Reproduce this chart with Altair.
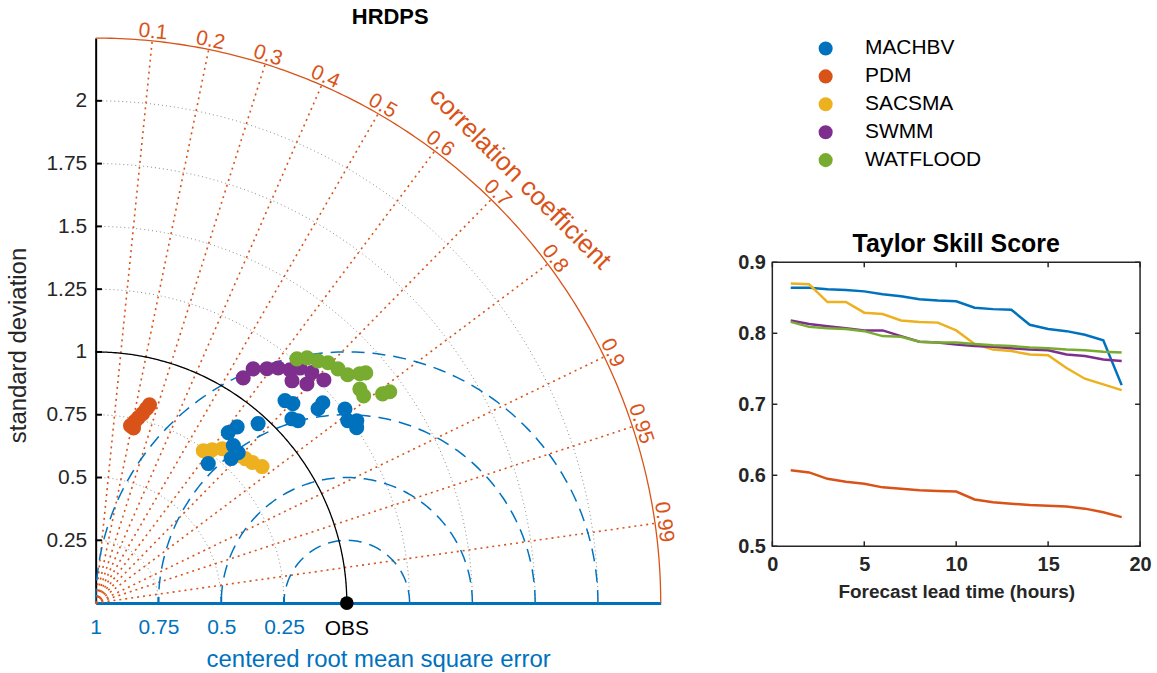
import altair as alt
import numpy as np
import pandas as pd

FONT = "Liberation Sans"
INK = "#262626"
ORANGE = "#D95319"
BLUE = "#0072BD"

MODELS = ["MACHBV", "PDM", "SACSMA", "SWMM", "WATFLOOD"]
MODEL_COLORS = ["#0072BD", "#D95319", "#EDB120", "#7E2F8E", "#77AC30"]
DRAW_ORDER = ["PDM", "SACSMA", "SWMM", "WATFLOOD", "MACHBV"]

# Taylor diagram statistics (normalised standard deviation, correlation)
std_machbv = [1.104, 1.117, 1.072, 1.085, 1.176, 1.206, 1.258, 1.239, 1.268, 1.252,
              0.860, 0.900, 0.833, 0.825, 0.789, 0.714, 0.964]
corr_machbv = [0.683, 0.703, 0.729, 0.743, 0.753, 0.750, 0.789, 0.810, 0.820, 0.830,
               0.614, 0.626, 0.658, 0.688, 0.684, 0.628, 0.671]
std_pdm = [0.720, 0.739, 0.758, 0.777, 0.800, 0.818, 0.714]
corr_pdm = [0.193, 0.210, 0.225, 0.240, 0.253, 0.262, 0.211]
std_sacsma = [0.743, 0.767, 0.795, 0.804, 0.816, 0.828, 0.838, 0.857, 0.748]
corr_sacsma = [0.577, 0.605, 0.634, 0.667, 0.695, 0.719, 0.744, 0.773, 0.599]
std_swmm = [1.072, 1.124, 1.156, 1.185, 1.209, 1.240, 1.181, 1.212, 1.271, 1.258]
corr_swmm = [0.548, 0.558, 0.590, 0.613, 0.640, 0.656, 0.662, 0.694, 0.715, 0.684]
std_watflood = [1.260, 1.289, 1.309, 1.331, 1.342, 1.354, 1.393, 1.413, 1.354, 1.349, 1.414, 1.442]
corr_watflood = [0.636, 0.653, 0.676, 0.695, 0.719, 0.741, 0.755, 0.761, 0.777, 0.791, 0.808, 0.812]

# Taylor skill score by forecast lead time
LEAD_HOURS = list(range(1, 20))
tss_machbv = [0.864, 0.864, 0.862, 0.861, 0.859, 0.855, 0.852, 0.848, 0.846, 0.845,
              0.836, 0.834, 0.833, 0.812, 0.806, 0.803, 0.798, 0.790, 0.727]
tss_pdm = [0.607, 0.604, 0.595, 0.591, 0.588, 0.583, 0.581, 0.579, 0.578, 0.577,
           0.566, 0.562, 0.560, 0.558, 0.557, 0.556, 0.553, 0.548, 0.541]
tss_sacsma = [0.870, 0.869, 0.844, 0.844, 0.829, 0.827, 0.818, 0.816, 0.815, 0.804,
              0.785, 0.777, 0.775, 0.770, 0.769, 0.751, 0.736, 0.728, 0.720]
tss_swmm = [0.818, 0.813, 0.810, 0.807, 0.804, 0.804, 0.796, 0.788, 0.787, 0.784,
            0.782, 0.781, 0.779, 0.777, 0.776, 0.770, 0.768, 0.763, 0.761]
tss_watflood = [0.816, 0.809, 0.807, 0.806, 0.803, 0.796, 0.795, 0.788, 0.787, 0.787,
                0.785, 0.783, 0.782, 0.780, 0.779, 0.777, 0.776, 0.774, 0.773]

# Diagram furniture
STD_MAX = 2.25
OBS_STD = 1.0
STD_TICKS = [0.25, 0.5, 0.75, 1.0, 1.25, 1.5, 1.75, 2.0]
CORR_TICKS = [0.1, 0.2, 0.3, 0.4, 0.5, 0.6, 0.7, 0.8, 0.9, 0.95, 0.99]
RMSE_TICKS = [0.25, 0.5, 0.75, 1.0]
RMSE_LABEL_POS = [0.0, 0.25, 0.5, 0.75]
TSS_X_TICKS = [0, 5, 10, 15, 20]
TSS_Y_TICKS = [0.5, 0.6, 0.7, 0.8, 0.9]


def arc(cx, r, name, a0, a1, n=181):
    t = np.linspace(a0, a1, n)
    return pd.DataFrame({"x": cx + r * np.cos(t), "y": r * np.sin(t),
                         "arc": name, "k": np.arange(n)})


stats = {
    "MACHBV": (std_machbv, corr_machbv),
    "PDM": (std_pdm, corr_pdm),
    "SACSMA": (std_sacsma, corr_sacsma),
    "SWMM": (std_swmm, corr_swmm),
    "WATFLOOD": (std_watflood, corr_watflood),
}
rows = []
for m in DRAW_ORDER:
    s, c = stats[m]
    s = np.array(s)
    c = np.array(c)
    rows.append(pd.DataFrame({"model": m, "x": s * c, "y": s * np.sqrt(1 - c ** 2)}))
points = pd.concat(rows, ignore_index=True)

std_arcs = pd.concat([arc(0, r, f"s{r}", 0, np.pi / 2) for r in STD_TICKS], ignore_index=True)
rmse_arcs = pd.concat([arc(OBS_STD, r, f"e{r}", 0, np.pi) for r in RMSE_TICKS], ignore_index=True)
obs_arc = arc(0, OBS_STD, "obs", 0, np.pi / 2)
outer_arc = arc(0, STD_MAX, "outer", 0, np.pi / 2)

ca = np.array(CORR_TICKS)
rays = pd.DataFrame({"x": 0.0, "y": 0.0, "x2": STD_MAX * ca,
                     "y2": STD_MAX * np.sqrt(1 - ca ** 2)})
LABEL_R = 2.285
corr_labels = pd.DataFrame({
    "x": LABEL_R * ca, "y": LABEL_R * np.sqrt(1 - ca ** 2),
    "text": [f"{c:g}" for c in CORR_TICKS],
    "rot": 90 - np.degrees(np.arccos(ca)),
})
TITLE_R = 2.39
corr_title = pd.DataFrame({"x": [TITLE_R * np.cos(np.pi / 4)], "y": [TITLE_R * np.sin(np.pi / 4)],
                           "text": ["correlation coefficient"], "rot": [45.0]})

st = np.array(STD_TICKS)
left_ticks = pd.DataFrame({"x": 0.0, "y": st, "x2": 0.025, "y2": st})
rt = np.array(RMSE_LABEL_POS[1:])
bottom_ticks = pd.DataFrame({"x": rt, "y": 0.0, "x2": rt, "y2": 0.025})
obs = pd.DataFrame({"x": [OBS_STD], "y": [0.0], "text": ["OBS"]})

xs = alt.Scale(domain=[0, STD_MAX], nice=False, zero=False)
ys = alt.Scale(domain=[0, STD_MAX], nice=False, zero=False)
x_axis = alt.Axis(values=RMSE_LABEL_POS, labelExpr="format(1 - datum.value, '.2~f')",
                  ticks=False, grid=False, domainColor=BLUE, domainWidth=3,
                  labelColor=BLUE, labelFontSize=21, labelFont=FONT, labelPadding=14,
                  labelFlush=False, labelOverlap=False,
                  title="centered root mean square error", titleColor=BLUE,
                  titleFontSize=24, titleFontWeight="normal", titleFont=FONT, titlePadding=10)
y_axis = alt.Axis(values=STD_TICKS, labelExpr="format(datum.value, '.2~f')", ticks=False,
                  grid=False, domainColor="black", domainWidth=2, labelColor=INK,
                  labelFontSize=21, labelFont=FONT, labelPadding=9, labelFlush=False,
                  labelOverlap=False,
                  title="standard deviation", titleColor=INK, titleFontSize=24,
                  titleFontWeight="normal", titleFont=FONT, titleX=-65, titleY=308)


def X(field="x"):
    return alt.X(field, type="quantitative", scale=xs, axis=x_axis)


def Y(field="y"):
    return alt.Y(field, type="quantitative", scale=ys, axis=y_axis)


g_std = alt.Chart(std_arcs).mark_line(color="#8a8a8a", strokeDash=[1, 3], strokeWidth=1).encode(
    x=X(), y=Y(), detail="arc:N", order="k:Q")
g_rays = alt.Chart(rays).mark_rule(color=ORANGE, strokeDash=[2, 4], strokeWidth=1.6).encode(
    x=X(), y=Y(), x2="x2:Q", y2="y2:Q")
g_rmse = alt.Chart(rmse_arcs).mark_line(color=BLUE, strokeDash=[13, 8], strokeWidth=1.5).encode(
    x=X(), y=Y(), detail="arc:N", order="k:Q")
g_obs_arc = alt.Chart(obs_arc).mark_line(color="black", strokeWidth=1.3).encode(
    x=X(), y=Y(), order="k:Q")
g_outer = alt.Chart(outer_arc).mark_line(color=ORANGE, strokeWidth=1.3).encode(
    x=X(), y=Y(), order="k:Q")
g_lticks = alt.Chart(left_ticks).mark_rule(color="black", strokeWidth=2).encode(
    x=X(), y=Y(), x2="x2:Q", y2="y2:Q")
g_bticks = alt.Chart(bottom_ticks).mark_rule(color=BLUE, strokeWidth=2).encode(
    x=X(), y=Y(), x2="x2:Q", y2="y2:Q")
g_clabels = alt.Chart(corr_labels).mark_text(
    color=ORANGE, fontSize=21, font=FONT, align="center", baseline="middle").encode(
    x=X(), y=Y(), text="text:N", angle=alt.Angle("rot:Q", scale=None))
g_ctitle = alt.Chart(corr_title).mark_text(
    color=ORANGE, fontSize=26, font=FONT, align="center", baseline="middle").encode(
    x=X(), y=Y(), text="text:N", angle=alt.Angle("rot:Q", scale=None))
g_points = alt.Chart(points).mark_point(filled=True, size=230, opacity=1, strokeWidth=0).encode(
    x=X(), y=Y(),
    color=alt.Color("model:N", scale=alt.Scale(domain=MODELS, range=MODEL_COLORS),
                    legend=alt.Legend(title=None, orient="none", legendX=722, legendY=0,
                                      symbolType="circle", symbolSize=200,
                                      symbolStrokeWidth=0, labelFontSize=21,
                                      labelFont=FONT, labelColor="black", labelOffset=29,
                                      rowPadding=6, padding=0)))
g_obs_pt = alt.Chart(obs).mark_point(filled=True, size=190, color="black", opacity=1).encode(
    x=X(), y=Y())
g_obs_txt = alt.Chart(obs).mark_text(fontSize=21, font=FONT, color="black", dy=26,
                                      baseline="middle").encode(x=X(), y=Y(), text="text:N")

taylor = alt.layer(
    g_std, g_rays, g_rmse, g_obs_arc, g_outer, g_lticks, g_bticks,
    g_clabels, g_ctitle, g_points, g_obs_pt, g_obs_txt,
).properties(
    width=567, height=567,
    title=alt.Title("HRDPS", fontSize=22, fontWeight="bold", color="black", font=FONT,
                    frame="group", anchor="middle", offset=9, dx=12, dy=18),
)

# Taylor skill score panel
tss = pd.concat([
    pd.DataFrame({"model": m, "hour": LEAD_HOURS, "score": v})
    for m, v in zip(MODELS, [tss_machbv, tss_pdm, tss_sacsma, tss_swmm, tss_watflood])
], ignore_index=True)

hx = alt.Scale(domain=[0, 20], nice=False)
hy = alt.Scale(domain=[0.5, 0.9], nice=False, zero=False)
hx_axis = alt.Axis(values=TSS_X_TICKS, ticks=False, domain=False, grid=False,
                   labelFontSize=20, labelFontWeight="bold", labelColor=INK, labelFont=FONT,
                   labelPadding=8, labelFlush=False,
                   title="Forecast lead time (hours)", titleFontSize=19, titleFontWeight="bold",
                   titleColor=INK, titleFont=FONT, titlePadding=8)
hy_axis = alt.Axis(values=TSS_Y_TICKS, format=".1f", ticks=False, domain=False, grid=False,
                   labelFontSize=20, labelFontWeight="bold", labelColor=INK, labelFont=FONT,
                   labelPadding=7, labelFlush=False, title=None)

tick_rows = []
for v in TSS_X_TICKS:
    tick_rows.append({"x": v, "y": 0.5, "x2": v, "y2": 0.507})
    tick_rows.append({"x": v, "y": 0.9, "x2": v, "y2": 0.893})
for v in TSS_Y_TICKS:
    tick_rows.append({"x": 0, "y": v, "x2": 0.27, "y2": v})
    tick_rows.append({"x": 20, "y": v, "x2": 19.73, "y2": v})
tss_ticks = pd.DataFrame(tick_rows)

l_lines = alt.Chart(tss).mark_line(strokeWidth=2.5).encode(
    x=alt.X("hour:Q", scale=hx, axis=hx_axis),
    y=alt.Y("score:Q", scale=hy, axis=hy_axis),
    color=alt.Color("model:N", scale=alt.Scale(domain=MODELS, range=MODEL_COLORS), legend=None),
)
l_ticks = alt.Chart(tss_ticks).mark_rule(color=INK, strokeWidth=1.5).encode(
    x=alt.X("x:Q", scale=hx, axis=hx_axis),
    y=alt.Y("y:Q", scale=hy, axis=hy_axis),
    x2="x2:Q", y2="y2:Q",
)
skill = alt.layer(l_lines, l_ticks).properties(
    width=369, height=285,
    title=alt.Title("Taylor Skill Score", fontSize=25, fontWeight="bold", color="black",
                    font=FONT, offset=6, dy=11),
    view=alt.ViewBackground(stroke=INK, strokeWidth=1.5),
)

spacer = alt.Chart(pd.DataFrame({"v": [0]})).mark_point(opacity=0).encode(
    x=alt.X("v:Q", axis=None), y=alt.Y("v:Q", axis=None),
).properties(width=369, height=205)

right = alt.vconcat(spacer, skill, spacing=20, bounds="flush")

chart = alt.hconcat(taylor, right, spacing=112, bounds="flush").resolve_scale(
    color="independent").resolve_legend(color="independent").properties(
    padding={"left": 7, "top": 4, "right": 5, "bottom": 5},
    background="white",
).configure_view(strokeWidth=0)

chart.save("out.html", embed_options={"renderer": "svg", "actions": False})
